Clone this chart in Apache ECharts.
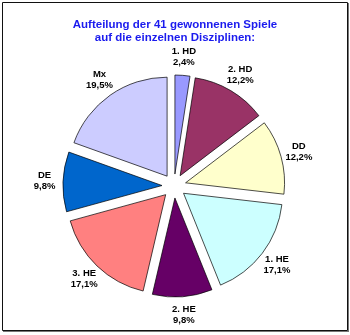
<!DOCTYPE html>
<html>
<head>
<meta charset="utf-8">
<script src="https://cdn.jsdelivr.net/npm/echarts@6/dist/echarts.min.js"></script>
<style>
  html, body { margin: 0; padding: 0; background: #fff; }
  #chart { width: 350px; height: 335px; }
</style>
</head>
<body>
<div id="chart"></div>
<script>
const titleLines = ['Aufteilung der 41 gewonnenen Spiele', 'auf die einzelnen Disziplinen:'];
const categories = ['1. HD', '2. HD', 'DD', '1. HE', '2. HE', '3. HE', 'DE', 'Mx'];
const games = [1, 5, 5, 7, 4, 7, 4, 8];
const colors = ['#9999FF', '#993366', '#FFFFCC', '#CCFFFF', '#660066', '#FF8080', '#0066CC', '#CCCCFF'];

const total = games.reduce((a, b) => a + b, 0);
const pctText = v => (v / total * 100).toFixed(1).replace('.', ',') + '%';

const sliceData = categories.map((c, i) => ({
  name: c, value: games[i], selected: true,
  itemStyle: { color: colors[i] }
}));
const labelData = categories.map((c, i) => ({ name: c, value: games[i] }));

const chart = echarts.init(document.getElementById('chart'), null, { renderer: 'canvas' });
chart.setOption({
  animation: false,
  backgroundColor: '#ffffff',
  title: {
    text: titleLines.join('\n'),
    left: 'center',
    top: 13,
    textStyle: {
      fontFamily: 'Liberation Sans, Arial, sans-serif',
      fontSize: 11.5, fontWeight: 'bold', color: '#1a1aee', lineHeight: 13
    }
  },
  graphic: [
    { type: 'rect', shape: { x: 2.5, y: 2.5, width: 345, height: 328 },
      style: { fill: 'none', stroke: '#111', lineWidth: 1 }, silent: true },
    { type: 'line', shape: { x1: 348.5, y1: 3, x2: 348.5, y2: 332 },
      style: { stroke: '#777', lineWidth: 1 }, silent: true },
    { type: 'line', shape: { x1: 3, y1: 331.5, x2: 349, y2: 331.5 },
      style: { stroke: '#777', lineWidth: 1 }, silent: true }
  ],
  series: [
    {
      type: 'pie',
      center: [174, 186],
      radius: [0, 99],
      startAngle: 90,
      clockwise: true,
      selectedMode: 'multiple',
      selectedOffset: 12,
      silent: true,
      label: { show: false },
      labelLine: { show: false },
      itemStyle: { borderColor: '#000', borderWidth: 0.7 },
      emphasis: { disabled: true },
      data: sliceData
    },
    {
      type: 'pie',
      center: [174, 186],
      radius: [117, 136],
      startAngle: 90,
      clockwise: true,
      silent: true,
      itemStyle: { color: 'rgba(0,0,0,0)', borderWidth: 0 },
      label: {
        show: true,
        position: 'inside',
        formatter: p => p.name + '\n' + pctText(p.value),
        fontFamily: 'Liberation Sans, Arial, sans-serif',
        fontSize: 9.5,
        fontWeight: 'bold',
        lineHeight: 11,
        color: '#000',
        align: 'center'
      },
      labelLine: { show: false },
      emphasis: { disabled: true },
      data: labelData
    }
  ]
});
</script>
</body>
</html>
